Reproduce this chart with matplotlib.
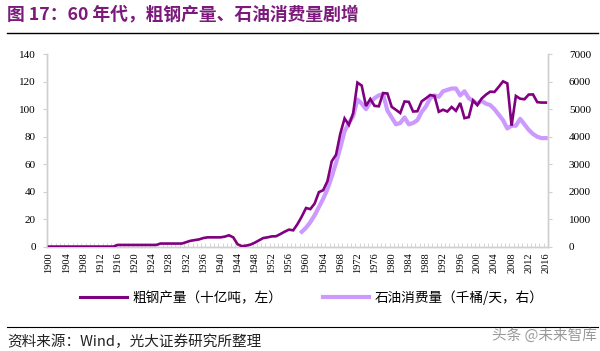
import numpy as np
import matplotlib
matplotlib.use("Agg")
import matplotlib.pyplot as plt
from matplotlib.lines import Line2D

# ---------------------------------------------------------------------
# data
# ---------------------------------------------------------------------

years = np.arange(1900, 2017)

steel_early = [0.3] * 16 + [1.5] * 10 + [2.5] * 6          # 1900-1931
steel_mid = [3.5, 4.5, 5.0, 5.5, 6.5, 7.0, 7.0, 7.0, 7.0, 7.5,   # 1932-1941
             8.5, 7.0, 2.0, 0.6, 1.0, 1.7, 3.1, 4.8, 6.5, 7.0,   # 1942-1951
             7.7, 7.8, 9.4, 11.1, 12.6, 12.1, 16.6, 22.1]        # 1952-1959
steel_late = [28.3, 27.5, 31.5, 39.8, 41.2, 47.8, 62.2, 66.9, 82.2, 93.3,   # 1960-1969
              88.6, 96.9, 119.3, 117.1, 102.3, 107.4, 102.4, 102.1, 111.7, 111.4,  # 1970-1979
              101.7, 99.5, 97.2, 105.6, 105.3, 98.3, 98.5, 105.7, 107.9, 110.3,  # 1980-1989
              109.6, 98.1, 99.6, 98.3, 101.6, 98.8, 104.5, 93.5, 94.2, 106.4,   # 1990-1999
              102.9, 107.7, 110.5, 112.7, 112.5, 116.2, 120.2, 118.7, 88.0, 109.6,  # 2000-2009
              107.6, 107.2, 110.6, 110.7, 105.1, 104.8, 104.8]              # 2010-2016
steel = steel_early + steel_mid + steel_late

oil_years = np.arange(1959, 2017)
oil = [550, 700, 900, 1150, 1450, 1750, 2100, 2550, 3050, 3600,     # 1959-1968
       4200, 4500, 4750, 5350, 5200, 5000, 5250, 5400, 5500, 5550,  # 1969-1978
       4950, 4700, 4450, 4500, 4700, 4450, 4500, 4600, 4900, 5100,  # 1979-1988
       5400, 5500, 5450, 5650, 5700, 5750, 5750, 5500, 5650, 5400,  # 1989-1998
       5300, 5200, 5300, 5200, 5150, 5000, 4800, 4600, 4300, 4400,  # 1999-2008
       4400, 4650, 4450, 4250, 4100, 4000, 3950, 3950]              # 2009-2016

left_ticks = np.arange(0, 141, 20)
right_ticks = np.arange(0, 7001, 1000)

title = "图 17：60 年代，粗钢产量、石油消费量剧增"
label_steel = "粗钢产量（十亿吨，左）"
label_oil = "石油消费量（千桶/天，右）"
source = "资料来源：Wind，光大证券研究所整理"
mark = "头条 @未来智库"

STEEL_C = "#800080"
OIL_C = "#cc99ff"
GRID_C = "#d0d0d0"
CJK = ["Noto Sans CJK SC", "DejaVu Sans"]
SERIF = "Liberation Serif"

# ---------------------------------------------------------------------
# figure
# ---------------------------------------------------------------------

fig = plt.figure(figsize=(6.0, 3.51), dpi=100)
ax = fig.add_axes([0.0783, 0.2963, 0.835, 0.5497])
ax2 = ax.twinx()

ax.plot(years, steel, color=STEEL_C, lw=1.9, zorder=3, solid_joinstyle="miter")
ax2.plot(oil_years, oil, color=OIL_C, lw=3.0, zorder=2)
ax.set_zorder(ax2.get_zorder() + 1)
ax.patch.set_visible(False)

ax.set_xlim(1899.5, 2016.5)
ax.set_ylim(0, 140)
ax2.set_ylim(0, 7000)

ax.set_yticks(left_ticks)
ax.set_yticklabels([str(v) for v in left_ticks], fontfamily=SERIF, fontsize=8)
ax2.set_yticks(right_ticks)
ax2.set_yticklabels([str(v) for v in right_ticks], fontfamily=SERIF, fontsize=8)

xt = years[::4]
ax.set_xticks(xt)
ax.set_xticklabels([str(y) for y in xt], rotation=90, fontfamily=SERIF, fontsize=7.5)
ax.set_xticks(np.arange(1899.5, 2017, 1), minor=True)
ax.tick_params(axis="x", which="major", length=0, pad=4)
ax.tick_params(axis="x", which="minor", direction="in", length=3, color=GRID_C)
ax.tick_params(axis="y", length=3, color=GRID_C, pad=5)
ax2.tick_params(axis="y", length=3, color=GRID_C, pad=12)

for a in (ax, ax2):
    a.spines["top"].set_visible(False)
    for side in ("left", "right", "bottom"):
        a.spines[side].set_color(GRID_C)
        a.spines[side].set_linewidth(1.0)

# title and rules
fig.text(0.012, 0.958, title, color="#7b1a7b", fontsize=12.8, fontweight="bold",
         family=CJK, va="center", ha="left")
fig.add_artist(Line2D([0.012, 0.997], [0.907, 0.907], color="black", lw=1.0))
fig.add_artist(Line2D([0.012, 0.997], [0.068, 0.068], color="black", lw=0.8))

# legend
handles = [Line2D([], [], color=STEEL_C, lw=2.2), Line2D([], [], color=OIL_C, lw=3.0)]
fig.legend(handles, [label_steel, label_oil], loc="center", bbox_to_anchor=(0.52, 0.152),
           ncol=2, frameon=False, handlelength=3.4, columnspacing=3.0, handletextpad=0.4,
           prop={"family": CJK, "size": 9.8})

# footer
fig.text(0.012, 0.027, source, fontsize=10.5, family=CJK, va="center", ha="left", color="#222222")
fig.text(0.995, 0.045, mark, fontsize=10.5, family=CJK, va="center", ha="right", color="#9a9a9a")

fig.savefig("out.png", dpi=100)
